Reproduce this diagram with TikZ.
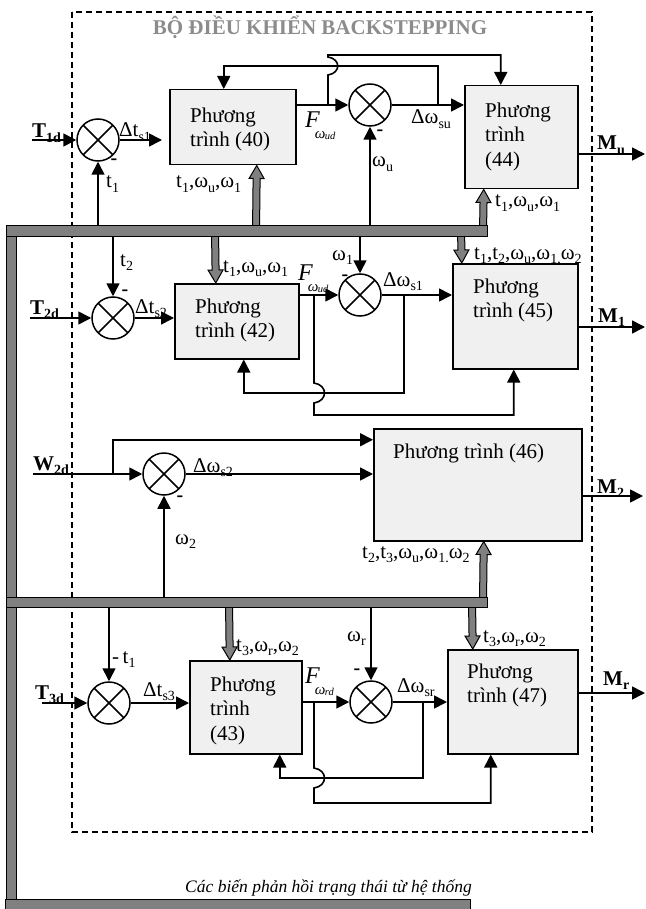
\documentclass[tikz,border=0pt]{standalone}
\usepackage{fontspec}
\setmainfont{Liberation Serif}
\usetikzlibrary{arrows.meta,calc}
\definecolor{boxfill}{RGB}{240,240,240}
\definecolor{busgray}{RGB}{128,128,128}
\definecolor{titlegray}{RGB}{140,140,140}
\newcommand{\lo}[1]{\raisebox{-0.22em}{\fontsize{14}{14}\selectfont #1}}
\newcommand{\Fw}[1]{{\fontsize{24}{24}\selectfont\itshape F}\kern-5pt\raisebox{-11pt}{\fontsize{15}{15}\selectfont\itshape ω\kern-0.5pt\raisebox{-1pt}{\fontsize{10.5}{10.5}\selectfont #1}}}
\newcommand{\fatarrow}[2]{%
  \path (#1) coordinate (fatS) (#2) coordinate (fatT);
  \path ($(fatT)!13pt!(fatS)$) coordinate (fatB);
  \filldraw[fill=busgray, draw=black, line width=1pt, line join=miter]
    ($(fatS)!3.5pt!90:(fatT)$) -- ($(fatB)!3.5pt!90:(fatT)$) -- ($(fatB)!7.5pt!90:(fatT)$) -- (fatT)
    -- ($(fatB)!7.5pt!-90:(fatT)$) -- ($(fatB)!3.5pt!-90:(fatT)$) -- ($(fatS)!3.5pt!-90:(fatT)$) -- cycle;}
\begin{document}
\begin{tikzpicture}[x=1pt,y=-1pt,
  ln/.style={line width=1.6pt},
  arr/.style={ln,-{Triangle[length=13pt,width=13pt]}},
  eqbox/.style={draw, line width=1.5pt, fill=boxfill, rectangle, inner sep=0, anchor=north west},
  sumc/.style={circle, draw, line width=1.5pt, fill=white, minimum size=42pt, inner sep=0,
    path picture={\draw[line width=1.5pt] (path picture bounding box.north west) -- (path picture bounding box.south east)
      (path picture bounding box.north east) -- (path picture bounding box.south west);}},
  txt/.style={inner sep=0, anchor=north west, font=\fontsize{21}{24.5}\selectfont, align=left},
  lbl/.style={inner sep=0, anchor=base west, font=\fontsize{21}{24}\selectfont},
  blbl/.style={lbl, font=\fontsize{21}{24}\selectfont\bfseries},
  msign/.style={inner sep=0, font=\fontsize{20}{24}\selectfont\bfseries},
  bus/.style={draw=black, fill=busgray, line width=1pt}
]
\useasboundingbox (0,0) rectangle (645,909);
% controller frame
\draw[line width=1.5pt, dash pattern=on 6pt off 4pt] (72,12) rectangle (592,832);
\node[font=\fontsize{21}{24}\selectfont\bfseries, text=titlegray, anchor=base, inner sep=0] (title) at (320,35) {BỘ ĐIỀU KHIỂN BACKSTEPPING};

% equation boxes
\node[eqbox, minimum width=126pt, minimum height=75pt] (b40) at (169,89) {};
\node[eqbox, minimum width=113pt, minimum height=103pt] (b44) at (464,85) {};
\node[eqbox, minimum width=124pt, minimum height=75pt] (b42) at (174,283) {};
\node[eqbox, minimum width=125pt, minimum height=105pt] (b45) at (452,263) {};
\node[eqbox, minimum width=208pt, minimum height=112pt] (b46) at (373,428) {};
\node[eqbox, minimum width=112pt, minimum height=93pt] (b43) at (189,660) {};
\node[eqbox, minimum width=130pt, minimum height=104pt] (b47) at (447,649) {};
\node[txt] (t40) at (190,107.5) {Phương\\trình (40)};
\node[txt] (t44) at (485,102.5) {Phương\\trình\\(44)};
\node[txt] (t42) at (195,298.5) {Phương\\trình (42)};
\node[txt] (t45) at (473,278.5) {Phương\\trình (45)};
\node[txt] (t46) at (393,443.5) {Phương trình (46)};
\node[txt] (t43) at (210,676.5) {Phương\\trình\\(43)};
\node[txt] (t47) at (467,663.5) {Phương\\trình (47)};

% summing junctions
\node[sumc] (s1) at (98,140) {};
\node[sumc] (s2) at (370,105) {};
\node[sumc] (s3) at (113,318) {};
\node[sumc] (s4) at (360,295) {};
\node[sumc] (s5) at (164,474) {};
\node[sumc] (s6) at (109,703) {};
\node[sumc] (s7) at (371,702) {};

% coordinates
\coordinate (bus1) at (0,231);
\coordinate (bus2) at (0,602);
\coordinate (in1) at (32,140);
\coordinate (in2) at (30,318);
\coordinate (in3) at (33,474);
\coordinate (in4) at (42,703);
\coordinate (o1) at (645,154);
\coordinate (o2) at (645,327);
\coordinate (o3) at (643,496);
\coordinate (o4) at (645,693);
\coordinate (ja) at (438,105);
\coordinate (jb) at (328,105);
\coordinate (jc) at (404,295);
\coordinate (jd) at (314,295);
\coordinate (je) at (113,474);
\coordinate (jf) at (423,702);
\coordinate (jg) at (314,702);

% row 1
\draw[arr] (in1) -- (s1);
\draw[arr, shorten >=7pt] (s1) -- (s1 -| b40.west);
\draw[arr] (s1 |- bus1) -- (s1);
\draw[arr] (b40.east |- s2) -- (s2);
\draw[arr] (jb) -- (328,75) .. controls (341,73) and (341,59) .. (328,57) -- (328,55) -| ([xshift=-20.5pt]b44.north);
\draw[arr] (ja) -- (438,66) -| ([xshift=-9pt]b40.north);
\draw[arr] (s2 |- bus1) -- (s2);
\draw[arr] (s2) -- (s2 -| b44.west);
\draw[arr] (b44.east |- o1) -- (o1);

% row 2
\draw[arr] (in2) -- (s3);
\draw[arr] (s3 |- bus1) -- (s3);
\draw[arr] (s3) -- (s3 -| b42.west);
\draw[arr] (b42.east |- s4) -- (s4);
\draw[arr] (s4 |- bus1) -- (s4);
\draw[arr] (s4) -- (s4 -| b45.west);
\draw[arr] (jc) -- (404,393) -| ([xshift=7pt]b42.south);
\draw[arr] (jd) -- (314,383) .. controls (328,385) and (328,401) .. (314,403) -- (314,415) -| ([xshift=-1.5pt]b45.south);
\draw[arr] (b45.east |- o2) -- (o2);

% row 3
\draw[arr] (in3) -- (s5);
\draw[arr] (je) |- ([yshift=45pt]b46.west);
\draw[arr] (s5) -- (s5 -| b46.west);
\draw[arr] (s5 |- bus2) -- (s5);
\draw[arr] (b46.east |- o3) -- (o3);

% row 4
\draw[arr] (in4) -- (s6);
\draw[arr] (s6 |- bus2) -- (s6);
\draw[arr] (s6) -- (s6 -| b43.west);
\draw[arr] (b43.east |- s7) -- (s7);
\draw[arr] (s7 |- bus2) -- (s7);
\draw[arr] (s7) -- (s7 -| b47.west);
\draw[arr] (jf) -- (423,778) -| ([xshift=34pt]b43.south);
\draw[arr] (jg) -- (314,768) .. controls (328,770) and (328,786) .. (314,788) -- (314,803) -| ([xshift=-22pt]b47.south);
\draw[arr] (b47.east |- o4) -- (o4);

% feedback bus arrows
\fatarrow{256,231}{[xshift=24pt]b40.south}
\fatarrow{483,231}{[xshift=-37.5pt]b44.south}
\fatarrow{215,231}{[xshift=-21pt]b42.north}
\fatarrow{461,231}{[xshift=-53.5pt]b45.north}
\fatarrow{483,602}{[xshift=6pt]b46.south}
\fatarrow{229,602}{[xshift=-16pt]b43.north}
\fatarrow{472,602}{[xshift=-40pt]b47.north}

% buses
\draw[bus] (6,226) rectangle (16,909);
\draw[bus] (6,226) rectangle (487,236);
\draw[bus] (6,597) rectangle (487,607);
\draw[bus] (5,899) rectangle (470,909);

% labels row 1
\node[blbl] (lT1) at (32,138) {T\lo{1d}};
\node[lbl] (lds1) at (119,137) {Δt\lo{s1}};
\node[msign] (m1) at (114,162) {-};
\node[lbl] (lt1) at (106,188) {t\lo{1}};
\node[lbl] (lbus1) at (176,188) {t\lo{1},ω\lo{u},ω\lo{1}};
\node[inner sep=0, anchor=base west] (F1) at (305,128) {\Fw{ud}};
\node[lbl] (lwu) at (372,167) {ω\lo{u}};
\node[msign] (m2) at (380,133) {-};
\node[lbl] (ldsu) at (411,124) {Δω\lo{su}};
\node[lbl] (lbus2) at (495,207) {t\lo{1},ω\lo{u},ω\lo{1}};
\node[blbl] (lMu) at (597,150) {M\lo{u}};

% labels row 2
\node[blbl] (lT2) at (30,314) {T\lo{2d}};
\node[lbl] (lt2) at (120,266) {t\lo{2}};
\node[msign] (m3) at (125,293) {-};
\node[lbl] (lds2) at (135,313) {Δt\lo{s2}};
\node[lbl] (lbus3) at (223,272) {t\lo{1},ω\lo{u},ω\lo{1}};
\node[inner sep=0, anchor=base west] (F2) at (298,280) {\Fw{ud}};
\node[lbl] (lw1) at (332,260) {ω\lo{1}};
\node[msign] (m4) at (345,278) {-};
\node[lbl] (ldsb) at (383,286) {Δω\lo{s1}};
\node[lbl] (lbus4) at (474,259) {t\lo{1},t\lo{2},ω\lo{u},ω\lo{1,}ω\lo{2}};
\node[blbl] (lM1) at (598,322) {M\lo{1}};

% labels row 3
\node[blbl] (lW2) at (33,470) {W\lo{2d}};
\node[lbl] (ldw2) at (193,472) {Δω\lo{s2}};
\node[msign] (m5) at (180,499) {-};
\node[lbl] (lw2) at (175,544) {ω\lo{2}};
\node[lbl] (lbus5) at (362,558) {t\lo{2},t\lo{3},ω\lo{u},ω\lo{1.}ω\lo{2}};
\node[blbl] (lM2) at (597,493) {M\lo{2}};

% labels row 4
\node[blbl] (lT3) at (35,699) {T\lo{3d}};
\node[lbl] (lt1b) at (112,663) {-\,t\lo{1}};
\node[lbl] (lds3) at (143,696) {Δt\lo{s3}};
\node[lbl] (lbus6) at (236,651) {t\lo{3},ω\lo{r},ω\lo{2}};
\node[inner sep=0, anchor=base west] (F3) at (305,683) {\Fw{rd}};
\node[lbl] (lwr) at (347,641) {ω\lo{r}};
\node[msign] (m6) at (357,672) {-};
\node[lbl] (ldsr) at (397,692) {Δω\lo{sr}};
\node[lbl] (lbus7) at (483,642) {t\lo{3},ω\lo{r},ω\lo{2}};
\node[blbl] (lMr) at (603,685) {M\lo{r}};

% footer
\node[inner sep=0, anchor=base west, font=\fontsize{17.5}{20}\selectfont\itshape] (foot) at (185,892) {Các biến phản hồi trạng thái từ hệ thống};
\end{tikzpicture}
\end{document}
